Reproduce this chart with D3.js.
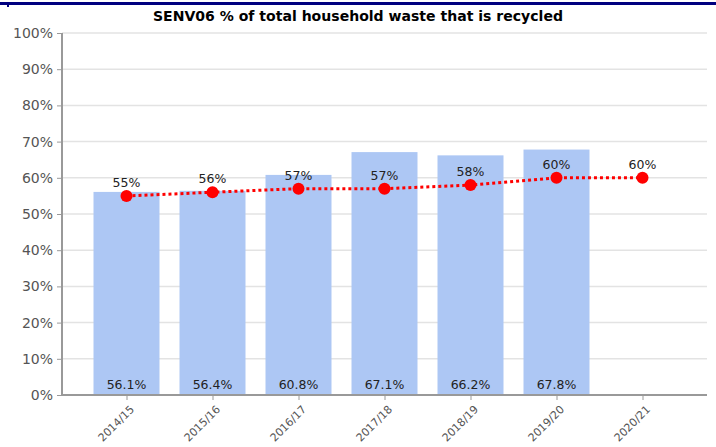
<!DOCTYPE html>
<html>
<head>
<meta charset="utf-8">
<script src="https://cdn.jsdelivr.net/npm/d3@7"></script>
<style>
    body { margin: 0; background: #fff; }
    svg { display: block; font-family: "DejaVu Sans", Verdana, sans-serif; }
</style>
</head>
<body>
<script>
(function() {
    'use strict';

    let years = [ "2014/15", "2015/16", "2016/17", "2017/18", "2018/19", "2019/20", "2020/21" ];
    let actual = [ 56.1, 56.4, 60.8, 67.1, 66.2, 67.8, null ];
    let target = [ 55, 56, 57, 57, 58, 60, 60 ];
    let yTicks = [ 0, 10, 20, 30, 40, 50, 60, 70, 80, 90, 100 ];

    let width = 716, height = 447;
    let left = 62, right = 707, top = 33, bottom = 395;

    let svg = d3.select("body").append("svg")
        .attr("width", width)
        .attr("height", height);

    // frame line along the top
    svg.append("rect").attr("x", 0).attr("y", 2).attr("width", width).attr("height", 3).attr("fill", "#00007f");
    svg.append("rect").attr("x", 7).attr("y", 4).attr("width", 2).attr("height", 3).attr("fill", "#00007f");

    svg.append("text")
        .attr("x", 358).attr("y", 21)
        .attr("text-anchor", "middle")
        .attr("font-size", "14px")
        .attr("font-weight", "bold")
        .attr("fill", "#000")
        .attr("textLength", 410)
        .attr("lengthAdjust", "spacingAndGlyphs")
        .text("SENV06 % of total household waste that is recycled");

    let xs = d3.scalePoint().domain(years).range([ left + 64.5, right - 64.5 ]);
    let y = d3.scaleLinear().domain([ 0, 100 ]).range([ bottom, top ]);

    // grid
    svg.append("g").selectAll("line")
        .data(yTicks.slice(1))
        .enter().append("line")
        .attr("x1", left).attr("x2", right)
        .attr("y1", function(d) { return y(d); })
        .attr("y2", function(d) { return y(d); })
        .attr("stroke", "#e3e3e3")
        .attr("stroke-width", 1.5);

    // bars
    let bars = years.map(function(d, i) { return { year: d, v: actual[i] }; })
                    .filter(function(d) { return d.v !== null; });
    svg.append("g").selectAll("rect")
        .data(bars)
        .enter().append("rect")
        .attr("x", function(d) { return xs(d.year) - 33; })
        .attr("width", 66)
        .attr("y", function(d) { return y(d.v); })
        .attr("height", function(d) { return bottom - y(d.v); })
        .attr("fill", "#adc7f4");

    svg.append("g").selectAll("text")
        .data(bars)
        .enter().append("text")
        .attr("x", function(d) { return xs(d.year); })
        .attr("y", bottom - 6)
        .attr("text-anchor", "middle")
        .attr("font-size", "12.5px")
        .attr("fill", "#222")
        .text(function(d) { return d.v.toFixed(1) + "%"; });

    // axes
    let yAxis = d3.axisLeft(y).tickValues(yTicks).tickSize(5).tickPadding(4)
        .tickFormat(function(d) { return d + "%"; });
    let gy = svg.append("g").attr("transform", "translate(" + left + ",0)").call(yAxis);
    gy.select(".domain").attr("stroke", "#999").attr("stroke-width", 2).attr("d", "M0," + top + "V" + bottom);
    gy.selectAll(".tick line").attr("stroke", "#999");
    gy.selectAll(".tick text").attr("fill", "#555").attr("font-size", "14px")
        .attr("font-family", "DejaVu Sans, sans-serif");

    let xAxis = d3.axisBottom(xs).tickSize(5).tickSizeOuter(0);
    let gx = svg.append("g").attr("transform", "translate(0," + bottom + ")").call(xAxis);
    gx.select(".domain").attr("stroke", "#999").attr("stroke-width", 2).attr("d", "M" + left + ",0H" + right);
    gx.selectAll(".tick line").attr("stroke", "#999");
    gx.selectAll(".tick text")
        .attr("fill", "#555")
        .attr("font-size", "11px")
        .attr("font-family", "DejaVu Sans, sans-serif")
        .attr("text-anchor", "end")
        .attr("dy", null)
        .attr("y", 0)
        .attr("transform", "translate(8,15) rotate(-45)");

    // target line
    let pts = years.map(function(d, i) { return { year: d, v: target[i] }; });
    let line = d3.line()
        .x(function(d) { return xs(d.year); })
        .y(function(d) { return y(d.v); });
    svg.append("path")
        .datum(pts)
        .attr("d", line)
        .attr("fill", "none")
        .attr("stroke", "#ff0000")
        .attr("stroke-width", 3)
        .attr("stroke-dasharray", "3,3");

    svg.append("g").selectAll("circle")
        .data(pts)
        .enter().append("circle")
        .attr("cx", function(d) { return xs(d.year); })
        .attr("cy", function(d) { return y(d.v); })
        .attr("r", 6)
        .attr("fill", "#ff0000");

    svg.append("g").selectAll("text")
        .data(pts)
        .enter().append("text")
        .attr("x", function(d) { return xs(d.year); })
        .attr("y", function(d) { return y(d.v) - 9; })
        .attr("text-anchor", "middle")
        .attr("font-size", "12.5px")
        .attr("fill", "#222")
        .text(function(d) { return d.v + "%"; });
})();
</script>
</body>
</html>
